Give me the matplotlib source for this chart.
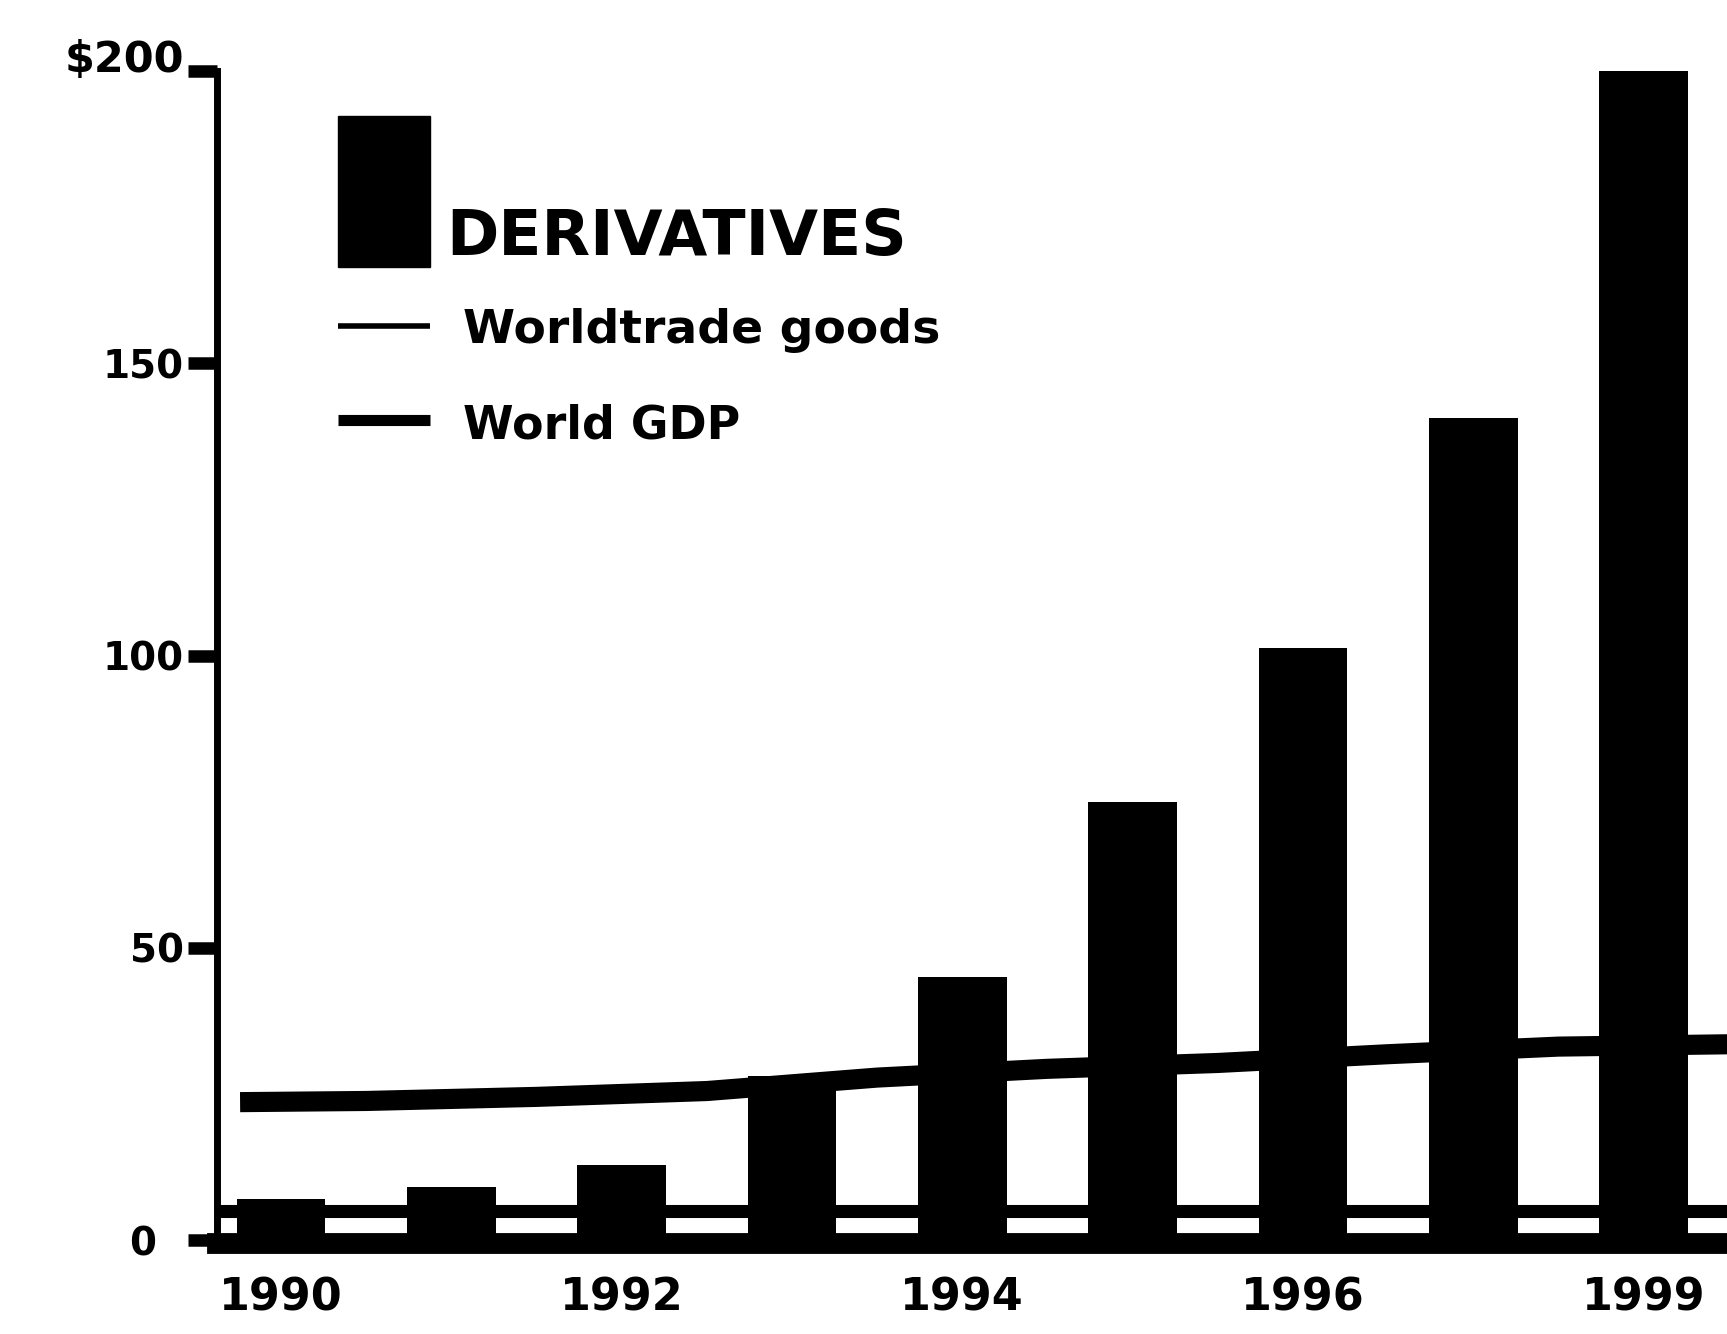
import numpy as np
import matplotlib.pyplot as plt
from matplotlib.transforms import ScaledTranslation

# derivatives bars, one slot per year shown on the axis
bar_pos = [0, 1, 2, 3, 4, 5, 6, 7, 8]
derivatives = [7.1, 9.0, 12.8, 28.0, 45.0, 74.9, 101.3, 140.6, 200.0]
year_labels = ['1990', '', '1992', '', '1994', '', '1996', '', '1999']

# World GDP (upper thick line), read between the bars
gdp_pos = [-0.24, 0.5, 1.5, 2.5, 3.5, 4.5, 5.5, 6.5, 7.5, 8.5]
gdp = [23.6, 23.8, 24.5, 25.5, 27.8, 29.3, 30.3, 31.8, 33.1, 33.5]

# World trade goods (lower line)
trade_pos = [-0.375, 0.5, 1.5, 2.5, 3.5, 4.5, 5.5, 6.5, 7.5, 8.5]
trade = [5.0, 5.0, 5.0, 5.0, 5.0, 5.0, 5.0, 5.0, 5.0, 5.0]

yticks = [0, 50, 100, 150, 200]
ytick_labels = ['0', '50', '100', '150', '$200']

fig = plt.figure(figsize=(17.27, 13.34), dpi=100)
ax = fig.add_axes([0.1257, 0.0682, 0.8743, 0.8786])

ax.plot(gdp_pos, gdp, color='black', lw=14.5, solid_capstyle='butt', zorder=2)
ax.plot(trade_pos, trade, color='black', lw=9.4, solid_capstyle='butt', zorder=2)
ax.bar(bar_pos, derivatives, width=0.52, color='black', zorder=3)

ax.set_xlim(-0.375, 8.49)
ax.set_ylim(-0.5, 200)

for s in ['top', 'right']:
    ax.spines[s].set_visible(False)
ax.spines['left'].set_linewidth(5)
ax.spines['bottom'].set_linewidth(15)
ax.spines['left'].set_zorder(4)
ax.spines['bottom'].set_zorder(4)

ax.set_yticks(yticks)
ax.set_yticklabels(ytick_labels)
ax.set_xticks(bar_pos)
ax.set_xticklabels(year_labels)
ax.tick_params(axis='y', length=21, width=9, pad=3, labelsize=28, direction='out')
ax.tick_params(axis='x', length=0, pad=24, labelsize=32)
for lab in ax.get_yticklabels() + ax.get_xticklabels():
    lab.set_fontweight('bold')

# nudge the '0' and '$200' labels like in the original
ylabs = ax.get_yticklabels()
ylabs[0].set_transform(ylabs[0].get_transform() + ScaledTranslation(-28/100, 0, fig.dpi_scale_trans))
ylabs[-1].set_transform(ylabs[-1].get_transform() + ScaledTranslation(0, 15/100, fig.dpi_scale_trans))
ylabs[-1].set_fontsize(31)

# legend drawn by hand
ax.add_patch(plt.Rectangle((0.080, 0.833), 0.061, 0.129, transform=ax.transAxes,
                           color='black', clip_on=False))
ax.text(0.152, 0.843, 'DERIVATIVES', transform=ax.transAxes, fontsize=45.5,
        fontweight='bold', va='baseline')
ax.plot([0.080, 0.141], [0.7825, 0.7825], transform=ax.transAxes, color='black',
        lw=4, solid_capstyle='butt')
ax.text(0.163, 0.768, 'Worldtrade goods', transform=ax.transAxes, fontsize=34,
        fontweight='bold', va='baseline')
ax.plot([0.080, 0.141], [0.702, 0.702], transform=ax.transAxes, color='black',
        lw=8, solid_capstyle='butt')
ax.text(0.163, 0.686, 'World GDP', transform=ax.transAxes, fontsize=33,
        fontweight='bold', va='baseline')

fig.savefig('out.png', dpi=100)
